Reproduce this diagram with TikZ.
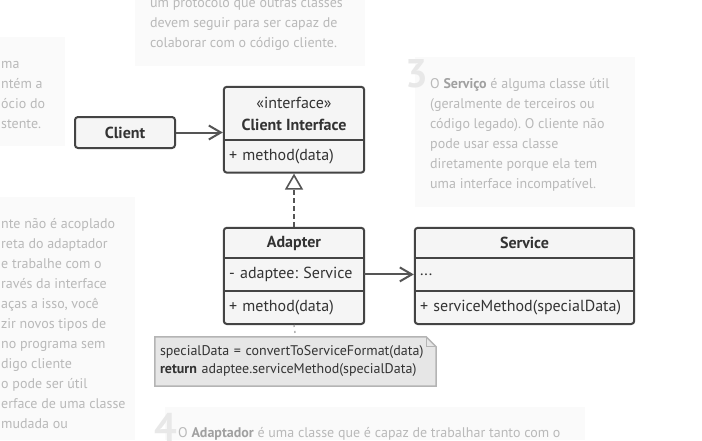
\documentclass[tikz,border=0pt]{standalone}
\usepackage{fontspec}
\setmainfont{PT Sans}
\frenchspacing
\usetikzlibrary{positioning,fit,backgrounds,arrows.meta}

\definecolor{umlline}{HTML}{444444}
\definecolor{umlfill}{HTML}{F5F5F5}
\definecolor{umltext}{HTML}{333333}
\definecolor{arrowline}{HTML}{555555}
\definecolor{notefill}{HTML}{E6E6E6}
\definecolor{noteline}{HTML}{B4B4B4}
\definecolor{hintfill}{HTML}{FAFAFA}
\definecolor{hinttext}{HTML}{B9B9B9}
\definecolor{hintbold}{HTML}{A0A0A0}
\definecolor{hintnum}{HTML}{E8E8E8}

\newcommand{\umlfont}{\fontsize{16}{22}\selectfont}
\newcommand{\notefont}{\fontsize{14}{18}\selectfont}
\newcommand{\hintfont}{\fontsize{14}{20}\selectfont}

\begin{document}
\begin{tikzpicture}[x=1pt, y=-1pt,
    umlpart/.style={rectangle, inner sep=0pt, text=umltext, font=\umlfont},
    umlhead/.style={umlpart, minimum width=#1, align=center},
    umlrow/.style={umlpart, text width=#1, inner xsep=5pt, align=left},
    umlbox/.style={rectangle, rounded corners=3pt, draw=umlline, fill=umlfill, line width=2pt, inner sep=0pt},
    sepline/.style={draw=umlline, line width=2pt},
    assoc/.style={draw=arrowline, line width=2pt, -{Straight Barb[length=12pt, width=14pt, line width=2pt]}},
    realize/.style={draw=arrowline, line width=2pt, dash pattern=on 5pt off 3pt, -{Triangle[open, fill=white, length=16pt, width=18pt, line width=1.6pt]}},
    notebox/.style={rectangle, inner sep=0pt, inner xsep=5pt, text width=271pt, minimum height=49pt, align=left, text=umltext, font=\notefont},
    notelink/.style={draw=noteline, line width=1.5pt, dash pattern=on 2pt off 4pt},
    hintbg/.style={fill=hintfill},
    hint/.style={inner sep=0pt, anchor=north west, align=left, text=hinttext, font=\hintfont},
    hintnum/.style={inner sep=0pt, text=hintnum, font=\fontsize{40}{40}\selectfont\bfseries},
    ]
    \useasboundingbox (0,0) rectangle (702,440);
    \clip (0,0) rectangle (702,440);

    %Hints
    \fill[hintbg] (135,0) rectangle (365,66);
    \node[hint] (hinttwo) at (150,-3) {um protocolo que outras classes\\devem seguir para ser capaz de\\colaborar com o código cliente.};
    \fill[hintbg] (0,37) rectangle (65,146);
    \node[hint] (hintone) at (1,61) {ma\\ntém a\\ócio do\\stente.};
    \fill[hintbg] (0,197) rectangle (135,440);
    \node[hint] (hintfive) at (1,218) {nte não é acoplado\\reta do adaptador\\e trabalhe com o\\ravés da interface\\aças a isso, você\\zir novos tipos de\\no programa sem\\digo cliente\\o pode ser útil\\erface de uma classe\\mudada ou};
    \fill[hintbg] (415,57) rectangle (635,207);
    \node[hintnum] (numthree) at (417,74) {3};
    \node[hint] (hintthree) at (430,78.5) {O \textcolor{hintbold}{\textbf{Serviço}} é alguma classe útil\\(geralmente de terceiros ou\\código legado). O cliente não\\pode usar essa classe\\diretamente porque ela tem\\uma interface incompatível.};
    \fill[hintbg] (165,407) rectangle (585,440);
    \node[hintnum] (numfour) at (166,427) {4};
    \node[hint] (hintfour) at (178,427) {O \textcolor{hintbold}{\textbf{Adaptador}} é uma classe que é capaz de trabalhar tanto com o};

    %Nodes
    \node[umlbox, minimum width=100pt, minimum height=31pt, font=\umlfont\bfseries, text=umltext] (client) at (125,132.5) {Client};

    \node[umlhead=140pt, minimum height=53pt] (cihead) at (294,113.5) {«interface»\\\textbf{Client Interface}};
    \node[umlrow=130pt, minimum height=32pt, below=0pt of cihead] (cimethod) {+ method(data)};

    \node[umlhead=140pt, minimum height=30pt] (adhead) at (294,243) {\textbf{Adapter}};
    \node[umlrow=130pt, minimum height=32pt, below=0pt of adhead] (adfield) {- adaptee: Service};
    \node[umlrow=130pt, minimum height=33pt, below=0pt of adfield] (admethod) {+ method(data)};

    \node[umlhead=219pt, minimum height=30pt] (svhead) at (524.5,243) {\textbf{Service}};
    \node[umlrow=209pt, minimum height=32pt, below=0pt of svhead] (svfield) {...};
    \node[umlrow=209pt, minimum height=33pt, below=0pt of svfield] (svmethod) {+ serviceMethod(specialData)};

    \node[notebox] (note) at (295.5,361.5) {specialData = convertToServiceFormat(data)\\\textbf{return} adaptee.serviceMethod(specialData)};

    \begin{scope}[on background layer]
        \fill[white] (0,0) rectangle (702,440);
        \node[umlbox, fit=(cihead)(cimethod)] (ci) {};
        \node[umlbox, fit=(adhead)(admethod)] (ad) {};
        \node[umlbox, fit=(svhead)(svmethod)] (sv) {};
        \filldraw[draw=noteline, fill=notefill, line width=1.5pt] (note.north west) -- ([xshift=-10pt]note.north east) -- ([yshift=-10pt]note.north east) -- (note.south east) -- (note.south west) -- cycle;
        \draw[draw=noteline, line width=1pt] ([xshift=-10pt]note.north east) -- ([xshift=-10pt,yshift=-10pt]note.north east) -- ([yshift=-10pt]note.north east);
    \end{scope}

    \draw[sepline] (cihead.south west) -- (cihead.south east);
    \draw[sepline] (adhead.south west) -- (adhead.south east);
    \draw[sepline] (adfield.south west) -- (adfield.south east);
    \draw[sepline] (svhead.south west) -- (svhead.south east);
    \draw[sepline] (svfield.south west) -- (svfield.south east);

    %Lines
    \draw[assoc] (client) -- (client -| ci.west);
    \draw[realize] (ad.north) -- (ci.south);
    \draw[assoc] (adfield.east) -- (adfield.east -| sv.west);
    \draw[notelink] (ad.south) -- (note.north);

\end{tikzpicture}
\end{document}
